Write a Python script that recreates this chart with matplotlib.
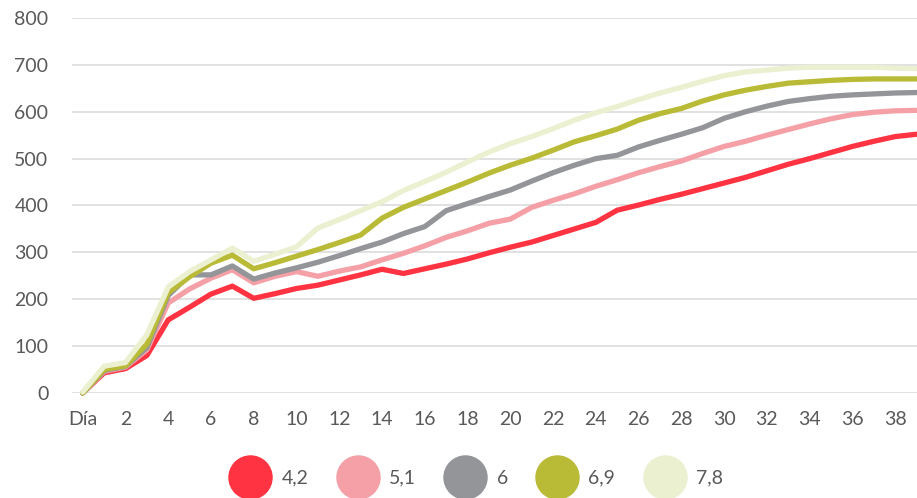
import numpy as np
import matplotlib
matplotlib.use("Agg")
import matplotlib.pyplot as plt
from matplotlib.lines import Line2D

# Categories: first point is labelled "Día", then days 1..39
days = ["Día"] + [str(d) for d in range(1, 40)]

series_names = ["4,2", "5,1", "6", "6,9", "7,8"]
series_colors = ["#FF3341", "#F5A0A7", "#949599", "#B9BA35", "#EBF0D1"]

vals_42 = [0, 43, 52, 80, 156, 183, 211, 228, 202, 212, 223, 230, 241, 252, 264,
           255, 265, 275, 286, 299, 311, 322, 336, 350, 364, 390, 401, 413, 424,
           436, 448, 460, 474, 488, 500, 513, 526, 537, 547, 552]
vals_51 = [0, 46, 55, 92, 192, 222, 245, 263, 235, 249, 259, 249, 260, 269, 284,
           298, 314, 332, 346, 362, 371, 396, 411, 425, 441, 455, 470, 483, 495,
           511, 526, 537, 550, 562, 574, 585, 594, 599, 602, 603]
vals_6 = [0, 48, 57, 97, 208, 252, 252, 271, 243, 256, 267, 279, 293, 308, 322,
          340, 355, 389, 404, 419, 433, 452, 470, 486, 500, 507, 525, 539, 552,
          566, 586, 600, 612, 622, 628, 633, 636, 638, 640, 641]
vals_69 = [0, 50, 58, 104, 214, 248, 277, 294, 265, 278, 292, 306, 321, 337, 373,
           396, 414, 432, 450, 469, 486, 501, 518, 536, 549, 563, 582, 596, 607,
           623, 636, 646, 654, 661, 664, 667, 669, 670, 670, 670]
vals_78 = [2, 57, 65, 124, 226, 259, 284, 309, 281, 296, 312, 352, 370, 389, 408,
           432, 451, 471, 493, 514, 532, 547, 564, 582, 598, 611, 626, 640, 652,
           665, 677, 685, 689, 693, 695, 695, 695, 695, 693, 692]

y_ticks = [0, 100, 200, 300, 400, 500, 600, 700, 800]

TEXT = "#595959"
GRID = "#D9D9D9"

plt.rcParams["font.family"] = ["Lato", "DejaVu Sans"]


def main():
    fig = plt.figure(figsize=(9.17, 4.98), dpi=100)
    ax = fig.add_axes([72 / 917, 105 / 498, 845 / 917, 375 / 498])

    x = np.arange(len(days))
    all_vals = [vals_42, vals_51, vals_6, vals_69, vals_78]
    for vals, color, name in zip(all_vals, series_colors, series_names):
        ax.plot(x, vals, color=color, lw=3.8, label=name, clip_on=False,
                solid_joinstyle="round", solid_capstyle="round")

    ax.set_xlim(-0.5, 39.02)
    ax.set_ylim(0, 800)
    ax.set_yticks(y_ticks)
    ax.set_xticks(x[::2])
    ax.set_xticklabels(days[::2])

    ax.grid(axis="y", color=GRID, lw=1.1)
    ax.set_axisbelow(True)
    for s in ax.spines.values():
        s.set_visible(False)
    ax.tick_params(axis="both", length=0, labelsize=14, colors=TEXT)
    ax.tick_params(axis="y", pad=17)
    ax.tick_params(axis="x", pad=13)

    handles = [Line2D([], [], ls="none", marker="o", markersize=31,
                      markerfacecolor=c, markeredgecolor=c)
               for c in series_colors]
    fig.legend(handles, series_names, loc="center", ncol=5,
               bbox_to_anchor=(0.519, 0.040), frameon=False,
               fontsize=14, labelcolor=TEXT, handlelength=2.2,
               handletextpad=0.5, columnspacing=1.45, borderpad=0)

    fig.savefig("out.png", dpi=100)
    plt.close(fig)


if __name__ == "__main__":
    main()
